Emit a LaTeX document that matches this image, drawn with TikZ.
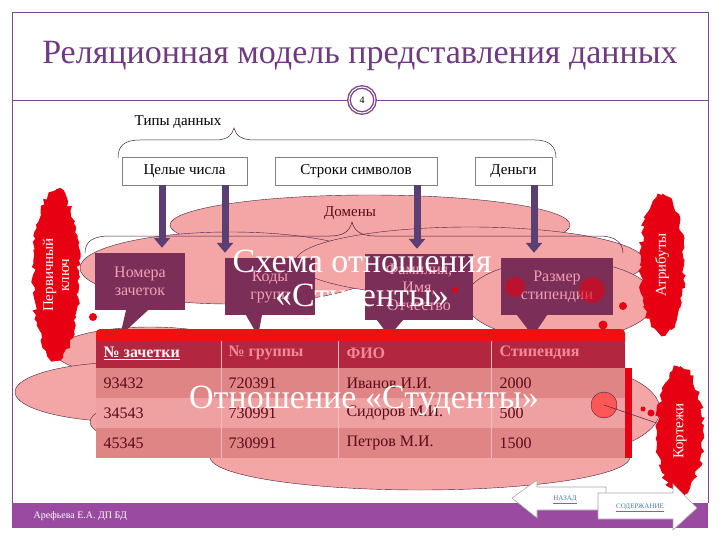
\documentclass[tikz,border=0pt]{standalone}
\usepackage{fontspec}
\setmainfont{Liberation Serif}
\usetikzlibrary{arrows.meta, positioning, shapes.geometric, calc, decorations.pathmorphing}

\definecolor{titlepurple}{HTML}{6E3B80}
\definecolor{framepurple}{HTML}{7A4A8A}
\definecolor{pinkcloud}{HTML}{F4A6A6}
\definecolor{cloudline}{HTML}{4A2040}
\definecolor{boxpurple}{HTML}{7B2F58}
\definecolor{boxtext}{HTML}{F3A0B4}
\definecolor{arrowcol}{HTML}{5B3E72}
\definecolor{blobred}{HTML}{E60012}
\definecolor{hdrred}{HTML}{B32640}
\definecolor{bandred}{HTML}{EE1111}
\definecolor{rowA}{HTML}{E08585}
\definecolor{rowB}{HTML}{EFA0A0}
\definecolor{celltext}{HTML}{5A0A1A}
\definecolor{hdrtext}{HTML}{F58A9A}
\definecolor{footer}{HTML}{9A4AA0}
\definecolor{navtext}{HTML}{2F8C9C}

\tikzset{
  frameline/.style={framepurple, line width=0.8pt},
  cloud/.style={fill=pinkcloud, draw=cloudline, line width=0.4pt},
  typebox/.style={draw=gray, fill=white, minimum height=28pt, inner sep=2pt, font=\fontsize{15}{17}\selectfont},
  domainbox/.style={fill=boxpurple, text=boxtext, align=center, inner sep=2pt, font=\fontsize{16}{18}\selectfont},
  typearrow/.style={arrowcol, line width=7pt, -{Triangle[width=16pt,length=10pt]}, shorten >=5pt},
  blob/.style={ellipse, fill=blobred, text=white, align=center, inner sep=0pt, font=\fontsize{15}{16}\selectfont,
    decorate, decoration={random steps, segment length=4pt, amplitude=2.5pt}},
  rowcell/.style={minimum width=529pt, minimum height=30pt, inner sep=0pt},
  celltext/.style={anchor=west, text=celltext, font=\fontsize{16}{18}\selectfont},
  hdrcell/.style={anchor=west, text=hdrtext, font=\bfseries\fontsize{16}{18}\selectfont},
  bigwhite/.style={text=white, align=center, font=\fontsize{34}{34}\selectfont},
  reddot/.style={circle, fill=blobred, inner sep=0pt},
  navarrow/.style={fill=white, draw=gray!70, line width=0.6pt},
  navlabel/.style={text=navtext, font=\fontsize{7}{8}\selectfont}
}

\begin{document}
\begin{tikzpicture}[x=1pt, y=-1pt]
\useasboundingbox (0,0) rectangle (720,540);

% Frame and title
\draw[frameline] (12,503) -- (12,12) -- (708,12) -- (708,503);
\node[text=titlepurple, font=\fontsize{34}{36}\selectfont] (title) at (360,56) {Реляционная модель представления данных};
\node[circle, draw=framepurple, line width=1.4pt, double=white, double distance=1pt, minimum size=26pt, inner sep=0pt, font=\fontsize{10}{11}\selectfont] (pnum) at (362,100) {4};
\draw[frameline] (12,100) -- (pnum.west);
\draw[frameline] (pnum.east) -- (708,100);

% Domains cloud
\foreach \cx/\cy/\rx/\ry in {370/225/200/30, 230/268/150/36, 470/262/175/35, 560/300/95/40,
  150/352/95/25, 130/392/115/30, 230/422/140/30, 560/410/100/45, 420/457/210/33}
  \filldraw[cloud] (\cx,\cy) ellipse [x radius=\rx, y radius=\ry];

% Data types
\node[font=\fontsize{15}{17}\selectfont] (types) at (178,122) {Типы данных};
\draw[cloudline, line width=0.5pt] (118,158) .. controls (118,146) and (124,140) .. (140,140) -- (215,140)
  .. controls (228,140) and (232,135) .. (234,128) .. controls (236,135) and (240,140) .. (255,140)
  -- (535,140) .. controls (550,140) and (556,147) .. (556,158);
\node[typebox, minimum width=125pt] (tint) at (184.5,171) {Целые числа};
\node[typebox, minimum width=162pt] (tstr) at (356,171) {Строки символов};
\node[typebox, minimum width=77pt] (tmon) at (513.5,171) {Деньги};

\node[text=celltext, font=\fontsize{15}{17}\selectfont] (dom) at (350,213) {Домены};
\draw[cloudline, line width=0.5pt] (85,253) .. controls (85,242) and (92,236) .. (110,236) -- (330,236)
  .. controls (345,236) and (350,230) .. (352,222) .. controls (354,230) and (360,236) .. (375,236)
  -- (600,236) .. controls (615,236) and (623,243) .. (623,253);

% Domains
\node[domainbox, minimum width=90pt, minimum height=57pt] (num) at (140,281.5) {Номера\\зачеток};
\node[domainbox, minimum width=90pt, minimum height=57pt] (grp) at (270,286.5) {Коды\\групп};
\node[domainbox, minimum width=108pt, minimum height=66pt] (fio) at (419,287) {Фамилия,\\Имя,\\Отчество};
\node[domainbox, minimum width=112pt, minimum height=57pt] (pay) at (557,286.5) {Размер\\стипендии};

\draw[typearrow] ([xshift=-22.5pt]tint.south) -- ([xshift=-22.5pt]tint.south |- num.north);
\draw[typearrow] ([xshift=40.5pt]tint.south) -- ([xshift=40.5pt]tint.south |- grp.north);
\draw[typearrow] ([xshift=61pt]tstr.south) -- ([xshift=61pt]tstr.south |- fio.north);
\draw[typearrow] ([xshift=20.5pt]tmon.south) -- ([xshift=20.5pt]tmon.south |- pay.north);

% Key columns and attributes
\node[blob, rotate=90, minimum width=170pt, minimum height=46pt] (pkey) at (56,275) {Первичный\\ключ};
\node[blob, rotate=90, minimum width=140pt, minimum height=44pt] (attr) at (662,265) {Атрибуты};
\node[blob, rotate=90, minimum width=128pt, minimum height=46pt] (tup) at (680,431) {Кортежи};

% Table
\fill[boxpurple] ([xshift=-14pt]num.south) -- ([xshift=8pt]num.south) -- ([xshift=-20pt]num.south |- 0,336) -- cycle;
\fill[boxpurple] ([xshift=-24pt]grp.south) -- ([xshift=-8pt]grp.south) -- ([xshift=-12pt]grp.south |- 0,336) -- cycle;
\fill[boxpurple] ([xshift=-42pt]fio.south) -- ([xshift=-16pt]fio.south) -- ([xshift=-30pt]fio.south |- 0,336) -- cycle;
\fill[boxpurple] ([xshift=-40pt]pay.south) -- ([xshift=-10pt]pay.south) -- ([xshift=-24pt]pay.south |- 0,336) -- cycle;
\fill[bandred, rounded corners=4pt] (96,329) rectangle (625,345);
\node[fill=hdrred, minimum width=529pt, minimum height=27pt, inner sep=0pt] (hdr) at (360.5,354.5) {};
\node[hdrcell, text=white!90!pink] (h1) at (100,353) {\underline{№ зачетки}};
\node[hdrcell] (h2) at (225,353) {№ группы};
\node[hdrcell] (h3) at (343,353) {ФИО};
\node[hdrcell] (h4) at (496,353) {Стипендия};

\foreach \a/\b/\c/\d/\rc [count=\r] in {93432/720391/Иванов И.И./2000/rowA, 34543/730991/Сидоров М.И./500/rowB, 45345/730991/Петров М.И./1500/rowA} {
  \node[rowcell, fill=\rc] (row\r) at (360.5,353+30*\r) {};
  \node[celltext] (ca\r) at (100,353+30*\r) {\a};
  \node[celltext] (cb\r) at (225,353+30*\r) {\b};
  \node[celltext] (cc\r) at (343,353+30*\r) {\c};
  \node[celltext] (cd\r) at (496,353+30*\r) {\d};
}
\foreach \cx in {221,338,491}
  \draw[rowB!70!white, line width=0.6pt] (\cx,341) -- (\cx,458);
\fill[blobred] (625,368) rectangle (632,458);

% Dots
\node[reddot, minimum size=6pt] at (455,290) {};
\node[reddot, minimum size=20pt, opacity=0.6] at (515,287) {};
\node[reddot, minimum size=26pt, opacity=0.6] at (592,290) {};
\node[reddot, minimum size=8pt] at (623,306) {};
\node[reddot, minimum size=9pt] at (603,325) {};
\node[reddot, minimum size=8pt] at (93,317) {};
\node[circle, fill=red!55!pink, draw=cloudline, line width=0.4pt, minimum size=26pt, inner sep=0pt] (tupc) at (604,405) {};
\draw[cloudline, line width=0.5pt] (tupc.center) -- (tup);
\node[reddot, minimum size=5pt] at (643,409) {};
\node[reddot, minimum size=7pt] at (651,413) {};

% Overlay texts
\node[bigwhite] (schema) at (362,282) {Схема отношения\\«Студенты»};
\node[bigwhite] (rel) at (364,401) {Отношение «Студенты»};

% Footer
\fill[footer] (12,503) rectangle (708,528);
\node[anchor=west, text=white, font=\fontsize{10}{11}\selectfont] (author) at (30,516) {Арефьева Е.А. ДП БД};
\draw[navarrow] (512,498) -- (537,480) -- (537,487) -- (606,487) -- (606,510) -- (537,510) -- (537,518) -- cycle;
\node[navlabel] (back) at (565,500) {\underline{НАЗАД}};
\draw[navarrow] (598,493) -- (673,493) -- (673,484) -- (697,508) -- (673,530) -- (673,519) -- (598,519) -- cycle;
\node[navlabel] (toc) at (640,508) {\underline{СОДЕРЖАНИЕ}};
\end{tikzpicture}
\end{document}
